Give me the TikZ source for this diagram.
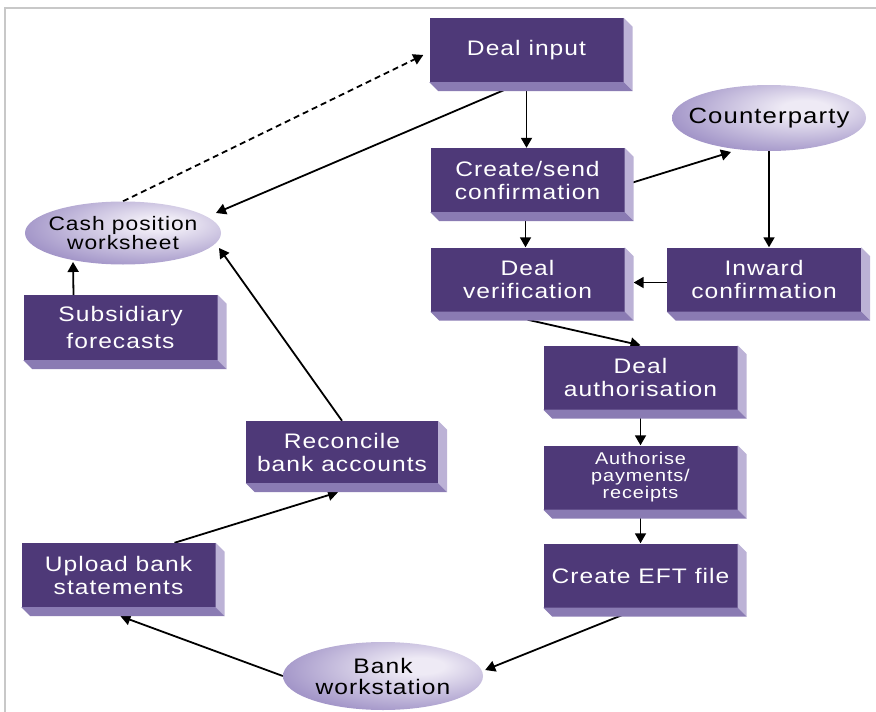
\documentclass[tikz,border=0pt]{standalone}
\usepackage{fontspec}
\newfontfamily\diafont{Liberation Sans}[FakeStretch=1.17,LetterSpace=5]
\usetikzlibrary{shapes.geometric,arrows.meta,backgrounds}
\definecolor{boxface}{HTML}{4E3978}
\definecolor{boxright}{HTML}{BCB2D6}
\definecolor{boxbottom}{HTML}{8A7BB3}
\definecolor{ellout}{HTML}{8475B0}
\definecolor{ellmid}{HTML}{A497C9}
\definecolor{ellhi}{HTML}{EEEAF5}
\definecolor{framegray}{HTML}{C8C8C8}
\pgfdeclareradialshading{ellshade}{\pgfpoint{10bp}{8bp}}{color(0bp)=(ellhi); color(6bp)=(ellhi); color(32bp)=(ellmid); color(50bp)=(ellout); color(90bp)=(ellout)}
\tikzset{
  stepbox/.style={rectangle, fill=boxface, text=white, inner sep=0pt, align=center,
    minimum width=194pt, minimum height=64pt, font=\diafont\fontsize{21}{23}\selectfont},
  oval/.style={ellipse, shade, shading=ellshade, text=black, inner xsep=-40pt, inner ysep=-15pt, align=center,
    minimum width=196pt, minimum height=64pt, font=\diafont\fontsize{21}{21}\selectfont},
  flow/.style={line width=1.8pt, -{Triangle[length=10pt,width=11pt]}},
}
\begin{document}
\begin{tikzpicture}[x=1pt,y=-1pt]
\useasboundingbox (0,0) rectangle (876,712);
% frame edges
\draw[framegray, line width=2pt] (5,712) -- (5,8) -- (876,8);

% process boxes
\node[stepbox] (dealinput) at (526.5,50) {Deal input};
\node[stepbox] (createsend) at (527.5,180) {Create/send\\confirmation};
\node[stepbox] (dealverif) at (527.5,279.5) {Deal\\verification};
\node[stepbox] (inward) at (764,279.5) {Inward\\confirmation};
\node[stepbox, minimum height=65pt, font=\diafont\fontsize{21}{27}\selectfont] (subsid) at (120.5,327.5) {Subsidiary\\forecasts};
\node[stepbox] (dealauth) at (640.5,377.5) {Deal\\authorisation};
\node[stepbox, font=\diafont\fontsize{17}{17}\selectfont] (authpay) at (640.5,477.5) {Authorise\\payments/\\receipts};
\node[stepbox] (eft) at (640.5,575.5) {Create EFT file};
\node[stepbox, minimum width=192pt, minimum height=62pt] (reconcile) at (342,452) {Reconcile\\bank accounts};
\node[stepbox] (upload) at (118.5,575) {Upload bank\\statements};

% raised sides of the boxes
\foreach \n in {dealinput,createsend,dealverif,inward,subsid,dealauth,authpay,eft,reconcile,upload}{
  \fill[boxright] (\n.north east) -- ++(9,9) -- ([shift={(9,9)}]\n.south east) -- (\n.south east) -- cycle;
  \fill[boxbottom] (\n.south west) -- ++(9,9) -- ([shift={(9,9)}]\n.south east) -- (\n.south east) -- cycle;
}

% external parties and worksheets
\node[oval, minimum width=194pt, minimum height=66pt, font=\diafont\fontsize{22}{22}\selectfont] (counterparty) at (769,118) {Counterparty};
\node[oval, minimum height=63pt, font=\diafont\fontsize{19.5}{18}\selectfont] (cash) at (123,233) {Cash position\\worksheet};
\node[oval, minimum width=200pt, minimum height=68pt] (bank) at (383,676) {Bank\\workstation};

% connectors
\begin{scope}[on background layer]
\draw[flow] (dealinput.south) -- (dealinput.south |- createsend.north);
\draw[flow] ([shift={(-4,0)}]dealinput.south) -- ([shift={(93,-20)}]cash.center);
\draw[flow, dash pattern=on 6pt off 4pt] (cash.north) -- ([shift={(-6,5)}]dealinput.west);
\draw[flow] ([shift={(0,5)}]createsend.east) -- ([shift={(-38,34)}]counterparty.center);
\draw[flow] (counterparty.south) -- (counterparty.south |- inward.north);
\draw[flow] ([shift={(0,3)}]inward.west) -- ([shift={(9,3)}]dealverif.east);
\draw[flow] ([shift={(-2,0)}]createsend.south) -- ([shift={(-2,0)}]dealverif.north);
\draw[flow] ([shift={(0,8)}]dealverif.south) -- (dealauth.north);
\draw[flow] (dealauth.south) -- (authpay.north);
\draw[flow] (authpay.south) -- (eft.north);
\draw[flow] (eft.south) -- ([shift={(2,-6)}]bank.east);
\draw[flow] (bank.west) -- ([shift={(2,9)}]upload.south);
\draw[flow] ([shift={(56,0)}]upload.north) -- ([shift={(-4,9)}]reconcile.south);
\draw[flow] (reconcile.north) -- ([shift={(96,15)}]cash.center);
\draw[flow] ([shift={(-47,0)}]subsid.north) -- ([shift={(-50,29)}]cash.center);
\end{scope}
\end{tikzpicture}
\end{document}
